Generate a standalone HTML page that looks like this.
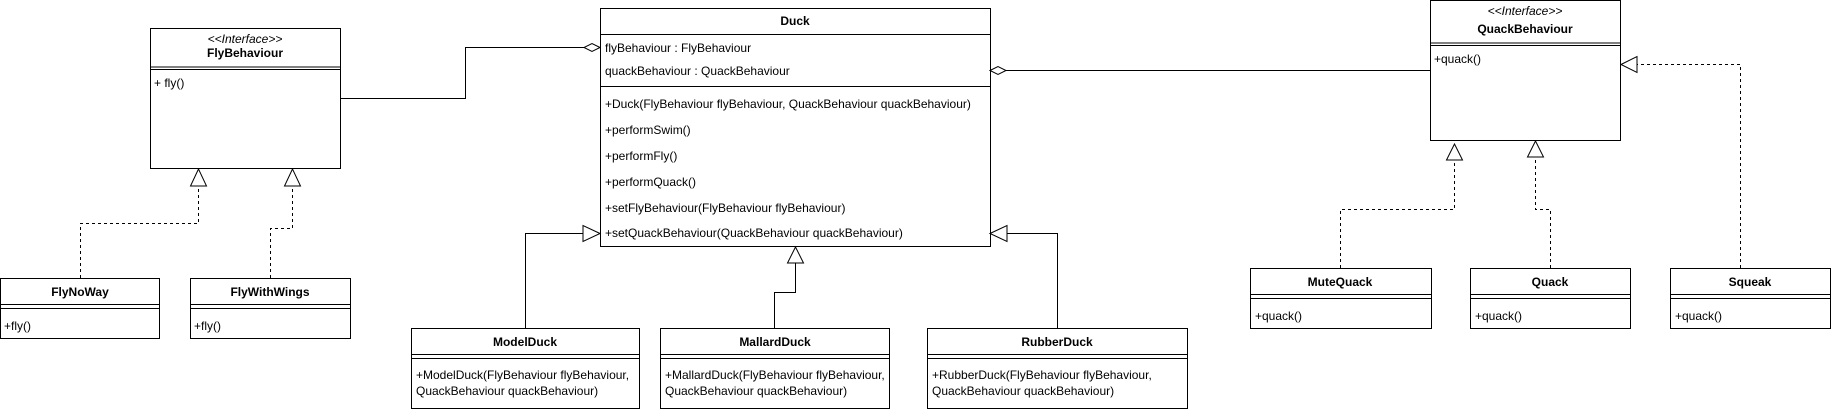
<!DOCTYPE html>
<html><head><meta charset="utf-8"><style>
html,body{margin:0;padding:0;background:#fff;}
svg{display:block;}
text{font-family:"Liberation Sans",Arial,sans-serif;font-size:12px;fill:#000;}
.b{font-weight:bold;}
.i{font-style:italic;}
</style></head><body>
<svg width="1831" height="412" viewBox="0 0 1831 412" xmlns="http://www.w3.org/2000/svg">
<g fill="#fff" stroke="#000" stroke-width="1">
<rect x="150.5" y="28.5" width="190" height="140"/>
<line x1="150.5" y1="67" x2="340.5" y2="67"/><line x1="150.5" y1="69.5" x2="340.5" y2="69.5"/>
<rect x="0.5" y="278.5" width="159" height="60"/>
<line x1="0.5" y1="304.5" x2="159.5" y2="304.5"/><line x1="0.5" y1="308.5" x2="159.5" y2="308.5"/>
<rect x="190.5" y="278.5" width="160" height="60"/>
<line x1="190.5" y1="304.5" x2="350.5" y2="304.5"/><line x1="190.5" y1="308.5" x2="350.5" y2="308.5"/>
<rect x="600.5" y="8.5" width="390" height="238"/>
<line x1="600.5" y1="34.5" x2="990.5" y2="34.5"/><line x1="600.5" y1="86.5" x2="990.5" y2="86.5"/>
<rect x="411.5" y="328.5" width="228" height="80"/>
<line x1="411.5" y1="354.5" x2="639.5" y2="354.5"/><line x1="411.5" y1="358.5" x2="639.5" y2="358.5"/>
<rect x="660.5" y="328.5" width="229" height="80"/>
<line x1="660.5" y1="354.5" x2="889.5" y2="354.5"/><line x1="660.5" y1="358.5" x2="889.5" y2="358.5"/>
<rect x="927.5" y="328.5" width="260" height="80"/>
<line x1="927.5" y1="354.5" x2="1187.5" y2="354.5"/><line x1="927.5" y1="358.5" x2="1187.5" y2="358.5"/>
<rect x="1430.5" y="0.5" width="190" height="140"/>
<line x1="1430.5" y1="43" x2="1620.5" y2="43"/><line x1="1430.5" y1="45.5" x2="1620.5" y2="45.5"/>
<rect x="1250.5" y="268.5" width="181" height="60"/>
<line x1="1250.5" y1="294.5" x2="1431.5" y2="294.5"/><line x1="1250.5" y1="298.5" x2="1431.5" y2="298.5"/>
<rect x="1470.5" y="268.5" width="160" height="60"/>
<line x1="1470.5" y1="294.5" x2="1630.5" y2="294.5"/><line x1="1470.5" y1="298.5" x2="1630.5" y2="298.5"/>
<rect x="1670.5" y="268.5" width="160" height="60"/>
<line x1="1670.5" y1="294.5" x2="1830.5" y2="294.5"/><line x1="1670.5" y1="298.5" x2="1830.5" y2="298.5"/>
</g>

<g fill="none" stroke="#000" stroke-width="1">
<polyline points="340,98.5 465.5,98.5 465.5,47.5 584,47.5"/>
<line x1="1006" y1="70.5" x2="1430" y2="70.5"/>
<polyline points="525.5,328 525.5,233.5 583,233.5"/>
<polyline points="774.5,328 774.5,292.5 795.5,292.5 795.5,263"/>
<polyline points="1057.5,328 1057.5,233.5 1007,233.5"/>
</g>
<g fill="none" stroke="#000" stroke-width="1" stroke-dasharray="3,3">
<polyline points="80.5,278 80.5,223.5 198.5,223.5 198.5,186"/>
<polyline points="270.5,278 270.5,228.5 292.5,228.5 292.5,186"/>
<polyline points="1340.5,268 1340.5,209.5 1454.5,209.5 1454.5,160"/>
<polyline points="1550.5,268 1550.5,209.5 1535.5,209.5 1535.5,157"/>
<polyline points="1740.5,268 1740.5,64.5 1637,64.5"/>
</g>
<g fill="#fff" stroke="#000" stroke-width="1">
<polygon points="600,47.5 592,43.5 584,47.5 592,51.5"/>
<polygon points="990,70.5 998,66.5 1006,70.5 998,74.5"/>
<polygon points="198.5,169 190.5,186 206.5,186"/>
<polygon points="292.5,169 284.5,186 300.5,186"/>
<polygon points="600,233.5 583,225.5 583,241.5"/>
<polygon points="795.5,247 787.5,263 803.5,263"/>
<polygon points="990,233.5 1007,225.5 1007,241.5"/>
<polygon points="1454.5,144 1446.5,160 1462.5,160"/>
<polygon points="1535.5,141 1527.5,157 1543.5,157"/>
<polygon points="1621,64.5 1637,56.5 1637,72.5"/>
</g>

<text x="245" y="43" text-anchor="middle" class="i">&lt;&lt;Interface&gt;&gt;</text>
<text x="245" y="57" text-anchor="middle" class="b">FlyBehaviour</text>
<text x="154" y="87">+ fly()</text>
<text x="80" y="296" text-anchor="middle" class="b">FlyNoWay</text>
<text x="4" y="330">+fly()</text>
<text x="270" y="296" text-anchor="middle" class="b">FlyWithWings</text>
<text x="194" y="330">+fly()</text>

<text x="795" y="25" text-anchor="middle" class="b">Duck</text>
<text x="605" y="52">flyBehaviour : FlyBehaviour</text>
<text x="605" y="75">quackBehaviour : QuackBehaviour</text>
<text x="605" y="108">+Duck(FlyBehaviour flyBehaviour, QuackBehaviour quackBehaviour)</text>
<text x="605" y="134">+performSwim()</text>
<text x="605" y="160">+performFly()</text>
<text x="605" y="186">+performQuack()</text>
<text x="605" y="212">+setFlyBehaviour(FlyBehaviour flyBehaviour)</text>
<text x="605" y="237">+setQuackBehaviour(QuackBehaviour quackBehaviour)</text>

<text x="525" y="346" text-anchor="middle" class="b">ModelDuck</text>
<text x="416" y="379">+ModelDuck(FlyBehaviour flyBehaviour,</text>
<text x="416" y="395">QuackBehaviour quackBehaviour)</text>
<text x="775" y="346" text-anchor="middle" class="b">MallardDuck</text>
<text x="665" y="379">+MallardDuck(FlyBehaviour flyBehaviour,</text>
<text x="665" y="395">QuackBehaviour quackBehaviour)</text>
<text x="1057" y="346" text-anchor="middle" class="b">RubberDuck</text>
<text x="932" y="379">+RubberDuck(FlyBehaviour flyBehaviour,</text>
<text x="932" y="395">QuackBehaviour quackBehaviour)</text>

<text x="1525" y="15" text-anchor="middle" class="i">&lt;&lt;Interface&gt;&gt;</text>
<text x="1525" y="33" text-anchor="middle" class="b">QuackBehaviour</text>
<text x="1434" y="63">+quack()</text>
<text x="1340" y="286" text-anchor="middle" class="b">MuteQuack</text>
<text x="1255" y="320">+quack()</text>
<text x="1550" y="286" text-anchor="middle" class="b">Quack</text>
<text x="1475" y="320">+quack()</text>
<text x="1750" y="286" text-anchor="middle" class="b">Squeak</text>
<text x="1675" y="320">+quack()</text>
</svg>
</body></html>
